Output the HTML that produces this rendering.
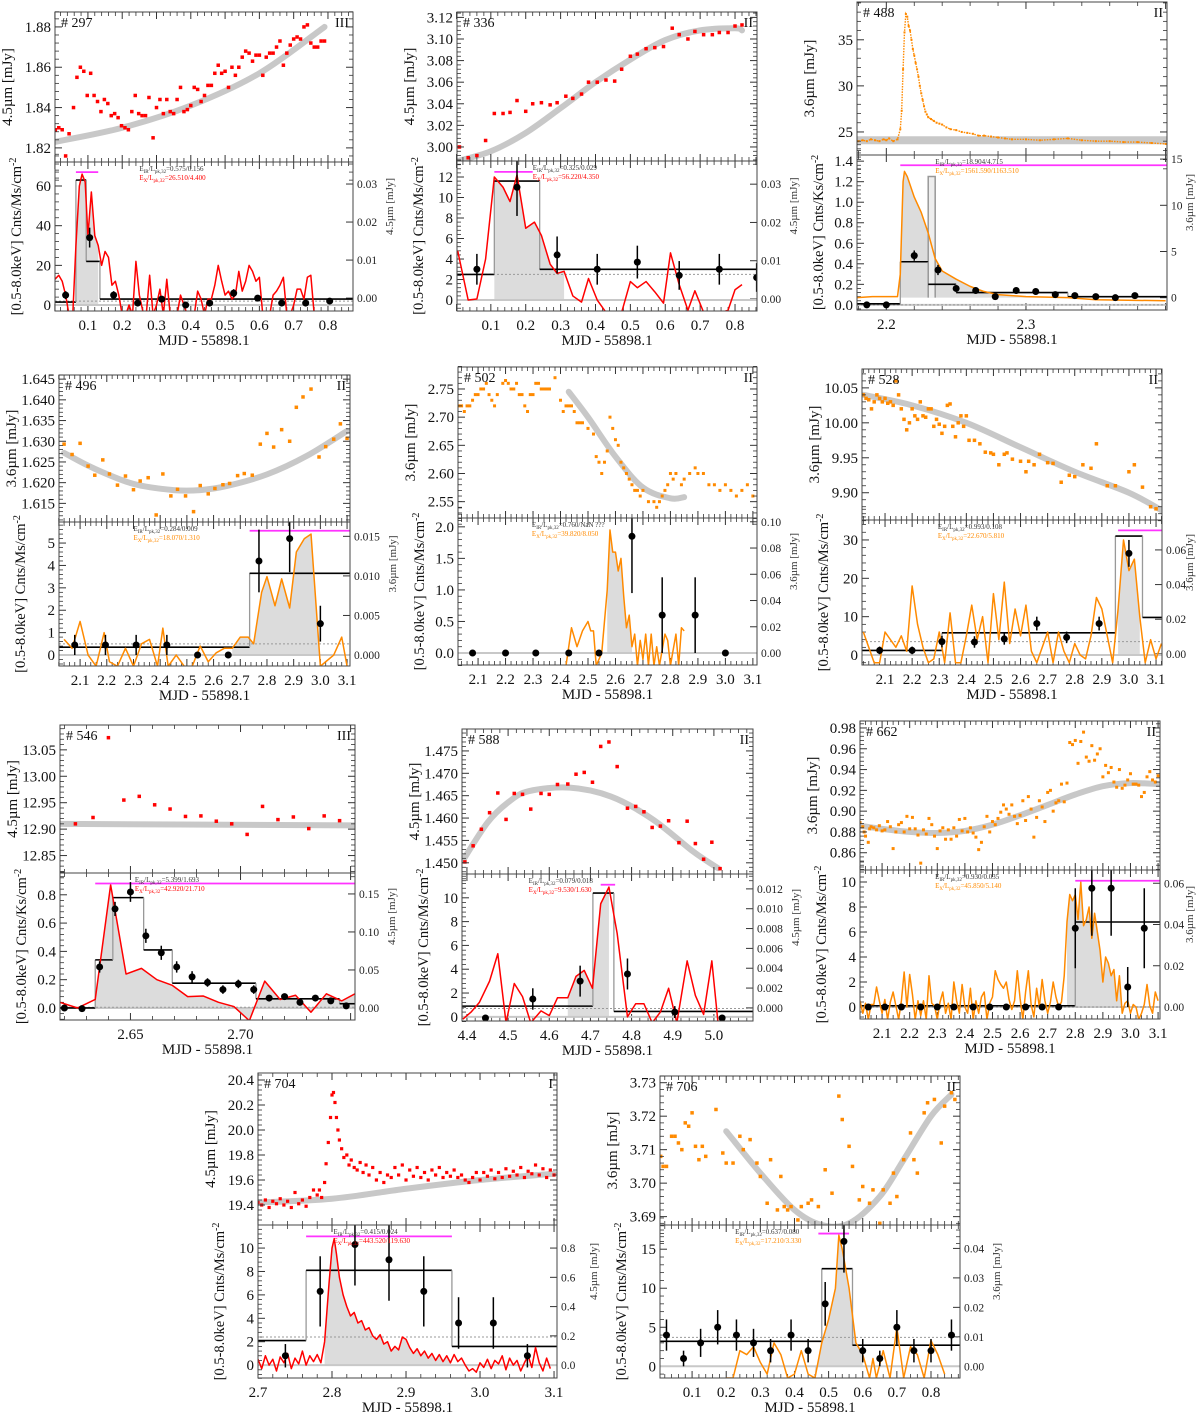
<!DOCTYPE html>
<html><head><meta charset="utf-8"><style>
html,body{margin:0;padding:0;background:#fff;}
svg{display:block;font-family:"Liberation Serif",serif;}
</style></head><body>
<svg id="fig" width="1200" height="1421" viewBox="0 0 1200 1421"></svg>
<script>
// ===== DATA =====
const p297_top=[[0.005,1.829],[0.015,1.830],[0.025,1.829],[0.035,1.816],[0.045,1.827],[0.058,1.840],[0.068,1.855],[0.078,1.860],[0.088,1.858],[0.098,1.846],[0.108,1.857],[0.118,1.846],[0.128,1.843],[0.138,1.838],[0.148,1.844],[0.158,1.842],[0.168,1.836],[0.178,1.837],[0.188,1.835],[0.198,1.831],[0.208,1.830],[0.218,1.829],[0.228,1.838],[0.238,1.846],[0.248,1.837],[0.258,1.836],[0.268,1.836],[0.278,1.845],[0.29,1.825],[0.3,1.840],[0.31,1.844],[0.32,1.837],[0.33,1.844],[0.34,1.838],[0.35,1.837],[0.36,1.844],[0.37,1.850],[0.38,1.838],[0.39,1.839],[0.4,1.841],[0.41,1.850],[0.42,1.849],[0.43,1.843],[0.44,1.846],[0.45,1.851],[0.46,1.851],[0.47,1.857],[0.48,1.861],[0.49,1.857],[0.5,1.858],[0.51,1.850],[0.52,1.860],[0.53,1.856],[0.54,1.860],[0.55,1.865],[0.56,1.868],[0.57,1.867],[0.58,1.863],[0.59,1.866],[0.6,1.866],[0.61,1.856],[0.62,1.865],[0.63,1.867],[0.64,1.867],[0.65,1.870],[0.66,1.873],[0.67,1.861],[0.68,1.867],[0.69,1.871],[0.70,1.874],[0.71,1.875],[0.72,1.874],[0.73,1.880],[0.74,1.881],[0.75,1.872],[0.76,1.870],[0.77,1.870],[0.78,1.873],[0.79,1.873]];
const p297_fit=[[0.005,1.823],[0.2,1.830],[0.4,1.841],[0.6,1.857],[0.79,1.880]];
const p297_line=[[0.004,13],[0.015,15],[0.025,12],[0.035,5],[0.045,-5],[0.055,-8],[0.065,30],[0.075,60],[0.083,66],[0.092,62],[0.1,35],[0.11,57],[0.12,35],[0.13,30],[0.14,20],[0.15,27],[0.16,24],[0.17,10],[0.18,12],[0.19,5],[0.2,-5],[0.21,-5],[0.22,0],[0.23,-5],[0.24,22],[0.25,5],[0.26,-3],[0.27,-5],[0.28,15],[0.29,-5],[0.3,0],[0.31,8],[0.32,-5],[0.33,13],[0.34,-5],[0.35,-3],[0.36,-5],[0.37,5],[0.38,0],[0.39,-5],[0.4,-5],[0.41,-5],[0.42,7],[0.43,3],[0.44,-5],[0.45,3],[0.46,3],[0.47,10],[0.48,20],[0.49,12],[0.5,5],[0.51,7],[0.52,3],[0.53,5],[0.54,17],[0.55,7],[0.56,12],[0.57,20],[0.58,17],[0.59,12],[0.6,14],[0.61,-5],[0.62,-5],[0.63,-5],[0.64,5],[0.65,7],[0.66,10],[0.67,14],[0.68,-5],[0.69,-5],[0.70,0],[0.71,8],[0.72,8],[0.73,3],[0.74,14],[0.75,15],[0.76,-5]];
const p297_hist=[[0.004,0.065,1.5],[0.065,0.095,63],[0.095,0.135,22],[0.135,0.873,3]];
const p297_pts=[[0.035,5,2],[0.105,34,5],[0.175,5,2],[0.245,1,1],[0.315,3,1.5],[0.385,0,1],[0.455,1,1],[0.525,6,2],[0.595,3.5,1.5],[0.665,1,1],[0.735,1,1],[0.805,2,1]];

const p336_top=[[0.01,3.000],[0.035,2.990],[0.06,2.992],[0.085,3.006],[0.11,3.031],[0.135,3.031],[0.155,3.032],[0.175,3.043],[0.2,3.033],[0.22,3.040],[0.245,3.041],[0.27,3.039],[0.29,3.041],[0.315,3.047],[0.335,3.045],[0.36,3.049],[0.38,3.060],[0.405,3.060],[0.43,3.062],[0.455,3.061],[0.475,3.072],[0.5,3.084],[0.52,3.086],[0.545,3.091],[0.57,3.092],[0.595,3.093],[0.62,3.110],[0.64,3.104],[0.665,3.100],[0.685,3.107],[0.71,3.104],[0.735,3.104],[0.755,3.106],[0.78,3.106],[0.8,3.112],[0.82,3.113]];
const p336_fit=[[0.005,2.987],[0.1,2.996],[0.2,3.013],[0.3,3.036],[0.4,3.060],[0.5,3.081],[0.6,3.099],[0.7,3.108],[0.8,3.110],[0.82,3.108]];
const p336_line=[[0.005,4.8],[0.035,0],[0.06,0.1],[0.085,4],[0.11,12],[0.135,11],[0.155,9.6],[0.175,12.2],[0.2,7],[0.225,7.6],[0.245,6.3],[0.27,3.5],[0.29,2.6],[0.31,2.8],[0.335,0.4],[0.36,-0.2],[0.38,2.1],[0.405,0],[0.43,-1.2],[0.455,-1.2],[0.475,-1.2],[0.5,1.8],[0.52,1.2],[0.545,1.8],[0.57,0.8],[0.595,-0.3],[0.615,4.6],[0.64,1.5],[0.665,-1],[0.685,0.9],[0.71,-1.2],[0.735,-1.2],[0.76,-1.2],[0.78,-1],[0.8,1],[0.82,1.5]];
const p336_hist=[[0.003,0.11,2.5],[0.11,0.24,11.6],[0.24,0.863,3.0]];
const p336_pts=[[0.06,3,1.5],[0.175,11,2.8],[0.29,4.4,1.8],[0.405,3,1.5],[0.52,3.7,1.6],[0.64,2.4,1.4],[0.755,3,1.5],[0.862,2.2,1.4]];

const p488_top=[[2.18,24.0],[2.183,24.1],[2.186,24.0],[2.189,24.2],[2.192,24.1],[2.195,24.0],[2.198,24.2],[2.2,24.1],[2.202,24.3],[2.205,24.0],[2.208,24.2],[2.21,25.3],[2.211,27.3],[2.212,31.8],[2.213,35.8],[2.214,37.8],[2.215,37.5],[2.216,36.5],[2.217,36.0],[2.218,35.0],[2.219,34.0],[2.22,33.3],[2.221,32.5],[2.222,31.8],[2.223,31.0],[2.224,30.0],[2.225,29.2],[2.226,28.5],[2.227,27.8],[2.228,27.2],[2.229,26.9],[2.23,26.6],[2.232,26.4],[2.234,26.2],[2.236,26.0],[2.238,25.9],[2.24,25.8],[2.243,25.5],[2.246,25.3],[2.25,25.2],[2.254,25.0],[2.258,24.9],[2.262,24.8],[2.266,24.6],[2.27,24.6],[2.275,24.5],[2.28,24.4],[2.285,24.3],[2.29,24.2],[2.3,24.2],[2.31,24.1],[2.32,24.2],[2.33,24.3],[2.34,24.1],[2.35,24.0],[2.36,24.0],[2.37,23.9],[2.38,23.9],[2.39,23.8],[2.4,23.7]];
const p488_fit=[[2.179,24.1],[2.401,24.1]];
const p488_line=[[2.179,0.07],[2.19,0.08],[2.2,0.08],[2.208,0.08],[2.21,0.3],[2.212,1.2],[2.213,1.3],[2.215,1.25],[2.22,1.05],[2.225,0.9],[2.23,0.7],[2.235,0.45],[2.24,0.33],[2.25,0.25],[2.26,0.18],[2.27,0.13],[2.28,0.1],[2.3,0.08],[2.33,0.07],[2.35,0.05],[2.4,0.04]];
const p488_hist=[[2.179,2.21,0.01],[2.21,2.23,0.42],[2.23,2.25,0.2],[2.25,2.33,0.12],[2.33,2.401,0.08]];
const p488_pts=[[2.186,0,0.01],[2.2,0,0.01],[2.22,0.48,0.05],[2.237,0.34,0.05],[2.25,0.16,0.03],[2.264,0.14,0.03],[2.278,0.08,0.02],[2.293,0.14,0.03],[2.307,0.13,0.03],[2.321,0.1,0.02],[2.335,0.09,0.02],[2.35,0.08,0.02],[2.364,0.07,0.02],[2.378,0.09,0.02]];

const p496_top=[[2.04,1.6293],[2.07,1.6268],[2.1,1.6295],[2.13,1.6240],[2.155,1.6218],[2.185,1.6255],[2.21,1.6221],[2.24,1.6194],[2.27,1.6216],[2.3,1.6183],[2.325,1.6204],[2.355,1.6212],[2.385,1.6122],[2.41,1.6221],[2.44,1.6168],[2.465,1.6184],[2.495,1.6168],[2.525,1.6130],[2.55,1.6193],[2.58,1.6173],[2.605,1.6186],[2.635,1.6195],[2.66,1.6198],[2.69,1.6217],[2.715,1.6222],[2.745,1.6218],[2.775,1.6293],[2.8,1.6319],[2.825,1.6286],[2.855,1.6328],[2.885,1.6300],[2.91,1.6382],[2.935,1.6407],[2.965,1.6426],[2.995,1.6262],[3.02,1.6287],[3.05,1.6305],[3.075,1.6342],[3.1,1.6307]];
const p496_fit=[[2.04,1.6272],[2.15,1.6235],[2.3,1.6197],[2.45,1.6182],[2.55,1.6182],[2.65,1.6192],[2.8,1.622],[2.95,1.6265],[3.1,1.6325]];
const p496_line=[[2.04,0.7],[2.07,0.3],[2.1,1.5],[2.13,0],[2.16,-0.5],[2.19,1.0],[2.21,-0.3],[2.24,-0.5],[2.27,0.3],[2.3,-0.5],[2.33,0.5],[2.36,0.7],[2.39,-0.5],[2.41,1.2],[2.43,-0.5],[2.46,0],[2.49,-0.5],[2.52,-0.5],[2.55,0.4],[2.58,-0.3],[2.61,0.1],[2.64,0.3],[2.67,0.3],[2.7,0.8],[2.73,0.8],[2.75,0.5],[2.78,2.8],[2.8,3.5],[2.83,2.2],[2.855,3.4],[2.885,2.1],[2.91,4.6],[2.94,5.2],[2.965,5.4],[3.0,-0.5],[3.02,-0.3],[3.05,0],[3.08,0.8],[3.1,-0.5]];
const p496_hist=[[2.021,2.735,0.35],[2.735,3.111,3.65]];
const p496_pts=[[2.08,0.45,0.45],[2.195,0.45,0.45],[2.31,0.45,0.45],[2.425,0.45,0.45],[2.54,0,0],[2.655,0,0],[2.77,4.2,1.4],[2.885,5.2,1.5],[3.0,1.4,0.8]];

const p502_top=[[2.03,2.72],[2.04,2.72],[2.05,2.71],[2.06,2.72],[2.07,2.72],[2.08,2.73],[2.09,2.74],[2.1,2.74],[2.11,2.75],[2.12,2.75],[2.13,2.76],[2.14,2.74],[2.15,2.73],[2.16,2.72],[2.17,2.74],[2.19,2.76],[2.2,2.765],[2.21,2.76],[2.22,2.75],[2.23,2.75],[2.24,2.76],[2.25,2.74],[2.26,2.74],[2.27,2.72],[2.28,2.71],[2.29,2.74],[2.3,2.74],[2.31,2.76],[2.32,2.76],[2.33,2.75],[2.34,2.75],[2.35,2.75],[2.36,2.75],[2.38,2.77],[2.4,2.73],[2.41,2.71],[2.42,2.72],[2.43,2.72],[2.44,2.72],[2.45,2.71],[2.46,2.69],[2.47,2.69],[2.48,2.69],[2.5,2.68],[2.52,2.67],[2.53,2.63],[2.54,2.62],[2.55,2.60],[2.56,2.62],[2.57,2.64],[2.58,2.70],[2.59,2.68],[2.6,2.66],[2.61,2.65],[2.62,2.62],[2.63,2.61],[2.64,2.60],[2.65,2.59],[2.66,2.58],[2.67,2.57],[2.68,2.57],[2.69,2.56],[2.7,2.57],[2.72,2.55],[2.74,2.55],[2.75,2.54],[2.76,2.55],[2.77,2.56],[2.78,2.57],[2.79,2.58],[2.8,2.60],[2.81,2.59],[2.82,2.60],[2.84,2.58],[2.85,2.59],[2.87,2.60],[2.89,2.61],[2.9,2.60],[2.92,2.60],[2.94,2.58],[2.96,2.58],[2.98,2.57],[3.0,2.58],[3.02,2.57],[3.04,2.56],[3.06,2.57],[3.08,2.58],[3.1,2.56]];
const p502_fit=[[2.43,2.745],[2.5,2.70],[2.6,2.63],[2.7,2.575],[2.8,2.556],[2.85,2.558]];
const p502_line=[[2.42,-0.2],[2.44,0.4],[2.46,0.1],[2.48,0.35],[2.5,0.5],[2.51,0.35],[2.52,0.35],[2.53,-0.2],[2.55,0.0],[2.57,1.0],[2.58,1.95],[2.59,1.6],[2.6,1.6],[2.61,1.3],[2.62,1.5],[2.63,0.9],[2.64,0.4],[2.65,0.6],[2.66,0.1],[2.67,0.3],[2.68,-0.2],[2.69,0.2],[2.7,-0.1],[2.71,0.3],[2.72,-0.2],[2.73,0.3],[2.74,-0.2],[2.75,0.1],[2.76,-0.2],[2.78,0.3],[2.79,0.2],[2.8,-0.2],[2.82,0.3],[2.83,-0.2],[2.84,0.4],[2.85,0.35]];
const p502_hist=[];
const p502_pts=[[2.08,0,0],[2.2,0,0],[2.31,0,0],[2.43,0,0],[2.54,0,0],[2.66,1.85,0.9],[2.77,0.6,0.6],[2.89,0.6,0.6],[3.0,0,0]];

const p528_top=[[2.02,10.04],[2.03,10.035],[2.04,10.033],[2.05,10.02],[2.06,10.03],[2.07,10.04],[2.08,10.035],[2.09,10.03],[2.1,10.035],[2.11,10.028],[2.12,10.03],[2.13,10.025],[2.14,10.06],[2.15,10.04],[2.16,10.02],[2.17,10.005],[2.18,9.99],[2.19,10.0],[2.2,10.02],[2.21,10.01],[2.22,10.005],[2.23,10.03],[2.24,10.01],[2.25,10.008],[2.26,10.02],[2.27,10.02],[2.28,9.995],[2.29,10.005],[2.3,9.998],[2.31,9.985],[2.32,9.995],[2.33,10.025],[2.34,10.027],[2.35,9.995],[2.36,9.98],[2.37,10.0],[2.38,10.01],[2.39,9.995],[2.4,10.01],[2.41,9.975],[2.43,9.975],[2.45,9.97],[2.47,9.958],[2.49,9.957],[2.5,9.955],[2.52,9.94],[2.54,9.955],[2.55,9.957],[2.57,9.948],[2.6,9.945],[2.62,9.93],[2.63,9.945],[2.65,9.94],[2.67,9.955],[2.7,9.943],[2.72,9.942],[2.75,9.915],[2.78,9.925],[2.8,9.923],[2.83,9.94],[2.86,9.935],[2.88,9.97],[2.92,9.91],[2.95,9.91],[3.0,9.93],[3.02,9.94],[3.05,9.908],[3.08,9.88],[3.1,9.877]];
const p528_fit=[[2.02,10.04],[2.2,10.025],[2.4,10.0],[2.6,9.965],[2.8,9.93],[3.0,9.9],[3.12,9.875]];
const p528_line=[[2.02,6],[2.04,2],[2.06,-2],[2.08,-2],[2.1,6],[2.12,4],[2.14,2],[2.16,5],[2.18,1],[2.2,18],[2.22,8],[2.24,2],[2.26,-2],[2.28,-1],[2.3,6],[2.32,-2],[2.34,11],[2.36,-2],[2.38,-2],[2.4,5],[2.42,13],[2.44,4],[2.46,10],[2.48,-2],[2.5,16],[2.52,4],[2.54,19],[2.56,3],[2.58,12],[2.6,5],[2.62,13],[2.64,1],[2.66,-2],[2.68,2],[2.7,6],[2.72,-2],[2.74,6],[2.76,1],[2.78,-2],[2.8,3],[2.82,0],[2.84,-1],[2.86,5],[2.88,15],[2.9,12],[2.92,5],[2.94,-2],[2.96,12],[2.98,30],[3.0,22],[3.02,25],[3.04,10],[3.06,-2],[3.08,4],[3.1,-1],[3.12,3]];
const p528_hist=[[2.015,2.31,1.2],[2.31,2.95,5.8],[2.95,3.05,31],[3.05,3.122,9.8]];
const p528_pts=[[2.08,1.2,1],[2.2,1.2,1],[2.31,3.5,1.5],[2.43,3.4,1.5],[2.54,4.2,1.5],[2.66,8.2,1.8],[2.77,4.6,1.5],[2.89,8.2,1.8],[3.0,26.5,3.5]];

const p546_top=[[2.625,12.910],[2.633,12.922],[2.640,13.073],[2.647,12.955],[2.654,12.962],[2.661,12.946],[2.668,12.938],[2.675,12.924],[2.682,12.925],[2.689,12.915],[2.696,12.910],[2.703,12.890],[2.710,12.943],[2.717,12.918],[2.724,12.923],[2.731,12.901],[2.738,12.925],[2.745,12.916]];
const p546_fit=[[2.618,12.910],[2.752,12.907]];
const p546_line=[[2.618,0.04],[2.626,0.0],[2.634,0.06],[2.641,0.87],[2.648,0.24],[2.655,0.28],[2.662,0.2],[2.669,0.16],[2.676,0.08],[2.683,0.085],[2.69,0.04],[2.697,0.01],[2.704,-0.09],[2.711,0.19],[2.718,0.06],[2.725,0.09],[2.732,-0.03],[2.739,0.1],[2.746,0.05],[2.752,0.1]];
const p546_hist=[[2.618,2.634,0.0],[2.634,2.642,0.34],[2.642,2.656,0.78],[2.656,2.669,0.41],[2.669,2.707,0.175],[2.707,2.745,0.065],[2.745,2.752,0.03]];
const p546_pts=[[2.62,0.0,0.01],[2.628,-0.005,0.01],[2.636,0.29,0.04],[2.643,0.7,0.05],[2.65,0.82,0.07],[2.657,0.51,0.05],[2.664,0.39,0.05],[2.671,0.29,0.04],[2.678,0.22,0.04],[2.685,0.18,0.03],[2.692,0.13,0.03],[2.699,0.17,0.03],[2.706,0.13,0.03],[2.713,0.07,0.02],[2.72,0.08,0.02],[2.727,0.04,0.02],[2.734,0.07,0.02],[2.741,0.05,0.02],[2.748,0.015,0.01]];

const p588_top=[[4.395,1.4502],[4.415,1.4538],[4.435,1.4575],[4.455,1.4612],[4.475,1.4656],[4.495,1.4597],[4.515,1.4655],[4.535,1.4653],[4.555,1.4620],[4.58,1.4655],[4.6,1.4653],[4.62,1.4675],[4.645,1.4676],[4.665,1.4698],[4.685,1.4702],[4.705,1.4680],[4.725,1.4760],[4.745,1.4770],[4.765,1.4715],[4.79,1.4622],[4.81,1.4626],[4.83,1.4614],[4.85,1.4579],[4.87,1.4582],[4.89,1.4594],[4.915,1.4545],[4.935,1.4593],[4.955,1.4543],[4.975,1.4508],[4.995,1.4546],[5.015,1.4487]];
const p588_fit=[[4.39,1.4505],[4.45,1.459],[4.5,1.4635],[4.55,1.466],[4.65,1.4668],[4.75,1.4648],[4.85,1.4598],[4.95,1.4525],[5.01,1.4488]];
const p588_line=[[4.39,-0.2],[4.41,0.4],[4.43,1.2],[4.455,3],[4.475,5.3],[4.495,-0.5],[4.515,2.8],[4.535,1.7],[4.555,-0.5],[4.58,0.5],[4.6,0.1],[4.62,1.6],[4.645,1.6],[4.665,3.4],[4.685,3.9],[4.705,2.4],[4.725,9.5],[4.745,10.9],[4.765,7],[4.79,0],[4.81,1.1],[4.83,1.1],[4.85,-0.5],[4.87,0.4],[4.89,2.4],[4.91,-0.5],[4.935,4.7],[4.955,1.8],[4.975,0.2],[4.995,4.7],[5.01,-0.5]];
const p588_hist=[[4.388,4.706,0.9],[4.706,4.757,10.4],[4.757,5.095,0.45]];
const p588_pts=[[4.445,-0.1,0],[4.56,1.5,0.9],[4.675,3.0,1.3],[4.79,3.6,1.3],[4.905,0.4,0.5],[5.02,-0.1,0]];

const p662_top=[[2.02,0.889],[2.03,0.885],[2.035,0.880],[2.04,0.876],[2.05,0.870],[2.055,0.883],[2.06,0.885],[2.07,0.884],[2.08,0.882],[2.09,0.886],[2.1,0.881],[2.11,0.882],[2.12,0.890],[2.13,0.885],[2.14,0.864],[2.15,0.880],[2.16,0.887],[2.17,0.889],[2.18,0.880],[2.19,0.895],[2.2,0.883],[2.21,0.894],[2.22,0.883],[2.23,0.877],[2.24,0.850],[2.25,0.882],[2.26,0.878],[2.27,0.893],[2.28,0.887],[2.29,0.876],[2.3,0.864],[2.31,0.881],[2.32,0.884],[2.33,0.873],[2.34,0.882],[2.35,0.873],[2.36,0.884],[2.37,0.876],[2.38,0.892],[2.39,0.881],[2.4,0.893],[2.41,0.880],[2.42,0.884],[2.43,0.879],[2.44,0.875],[2.45,0.863],[2.46,0.870],[2.47,0.885],[2.48,0.895],[2.49,0.880],[2.5,0.890],[2.51,0.887],[2.52,0.893],[2.53,0.899],[2.54,0.906],[2.55,0.902],[2.56,0.897],[2.57,0.906],[2.58,0.895],[2.59,0.888],[2.6,0.896],[2.61,0.910],[2.62,0.891],[2.63,0.914],[2.64,0.902],[2.65,0.875],[2.66,0.894],[2.67,0.910],[2.68,0.904],[2.69,0.890],[2.7,0.918],[2.71,0.920],[2.72,0.900],[2.73,0.908],[2.74,0.910],[2.75,0.926],[2.76,0.909],[2.77,0.927],[2.78,0.966],[2.79,0.964],[2.8,0.968],[2.81,0.946],[2.82,0.967],[2.83,0.976],[2.84,0.952],[2.85,0.948],[2.86,0.963],[2.87,0.949],[2.88,0.955],[2.89,0.960],[2.9,0.933],[2.91,0.944],[2.92,0.937],[2.93,0.942],[2.94,0.928],[2.95,0.923],[2.96,0.940],[2.97,0.922],[2.98,0.925],[2.99,0.930],[3.0,0.936],[3.01,0.926],[3.02,0.926],[3.03,0.925],[3.04,0.914],[3.05,0.918],[3.06,0.933],[3.07,0.938],[3.08,0.930],[3.09,0.928],[3.1,0.934]];
const p662_fit=[[2.02,0.886],[2.1,0.883],[2.2,0.880],[2.3,0.879],[2.4,0.881],[2.5,0.887],[2.6,0.896],[2.7,0.906],[2.8,0.916],[2.9,0.924],[3.0,0.927],[3.1,0.926]];
const p662_line=[[2.02,0.5],[2.03,-0.5],[2.04,0.3],[2.05,-1],[2.06,0.2],[2.07,0.2],[2.08,1.6],[2.09,0.5],[2.1,-0.5],[2.11,0.6],[2.12,-1],[2.13,0.4],[2.14,1.2],[2.15,0.1],[2.16,-1],[2.17,0.5],[2.18,2.8],[2.19,0],[2.2,2.6],[2.21,1],[2.22,-1],[2.23,0.5],[2.24,-0.7],[2.25,0.5],[2.26,-1],[2.27,2.5],[2.28,0.3],[2.29,0.1],[2.3,-1],[2.31,0.4],[2.32,1.2],[2.33,-0.5],[2.34,0.3],[2.35,-1],[2.36,2.0],[2.37,0.5],[2.38,-0.5],[2.39,1.8],[2.4,0],[2.41,-0.5],[2.42,1.5],[2.43,-1],[2.44,0.5],[2.45,-0.5],[2.46,0.8],[2.47,1.2],[2.48,-1],[2.49,0.3],[2.5,0.8],[2.51,2.9],[2.52,2.2],[2.53,1.8],[2.54,1.5],[2.55,2.0],[2.56,0.6],[2.57,-0.2],[2.58,0.5],[2.59,2.9],[2.6,0.7],[2.61,-1],[2.62,1.2],[2.63,2.9],[2.64,0.2],[2.65,-0.8],[2.66,1.5],[2.67,0],[2.68,2.2],[2.69,0.5],[2.7,-0.5],[2.71,0.4],[2.72,2.0],[2.73,0.8],[2.74,0],[2.75,0.4],[2.76,2.5],[2.77,6.8],[2.78,9.0],[2.79,8.5],[2.8,9.0],[2.81,7.0],[2.82,10.0],[2.83,6.5],[2.84,7.0],[2.85,8.0],[2.86,5.5],[2.87,7.5],[2.88,6.0],[2.89,4.5],[2.9,2.0],[2.91,4.0],[2.92,3.5],[2.93,2.5],[2.94,3.0],[2.95,0.5],[2.96,2.5],[2.97,-0.5],[2.98,0.3],[2.99,0.5],[3.0,-0.5],[3.01,0.2],[3.02,0],[3.03,-1],[3.04,-0.5],[3.05,0.2],[3.06,1.8],[3.07,0.1],[3.08,-0.5],[3.09,1.2],[3.1,0.5]];
const p662_hist=[[2.02,2.8,0.1],[2.8,3.107,6.8]];
const p662_pts=[[2.05,0,0.1],[2.11,0,0.1],[2.17,0,0.1],[2.24,0,0.1],[2.3,0,0.1],[2.36,0,0.1],[2.43,0,0.1],[2.49,0,0.1],[2.55,0,0.1],[2.62,0,0.1],[2.68,0,0.1],[2.74,0,0.1],[2.8,6.3,3.2],[2.86,9.5,3.8],[2.93,9.5,3.8],[2.99,1.6,1.6],[3.05,6.3,3.2]];

const p704_top=[[2.700,19.42],[2.705,19.40],[2.71,19.44],[2.715,19.38],[2.72,19.43],[2.725,19.41],[2.73,19.45],[2.735,19.40],[2.74,19.43],[2.745,19.38],[2.75,19.50],[2.755,19.41],[2.76,19.44],[2.765,19.39],[2.77,19.46],[2.775,19.52],[2.78,19.48],[2.783,19.52],[2.786,19.46],[2.79,19.58],[2.792,19.73],[2.795,19.90],[2.798,20.10],[2.8,20.28],[2.802,20.30],[2.804,20.22],[2.806,20.10],[2.808,20.0],[2.81,19.92],[2.813,19.85],[2.816,19.78],[2.82,19.80],[2.823,19.72],[2.826,19.76],[2.83,19.70],[2.834,19.68],[2.838,19.74],[2.842,19.66],[2.846,19.72],[2.85,19.64],[2.855,19.70],[2.86,19.60],[2.865,19.66],[2.87,19.58],[2.875,19.64],[2.88,19.62],[2.885,19.70],[2.89,19.64],[2.895,19.72],[2.9,19.60],[2.905,19.68],[2.91,19.63],[2.915,19.70],[2.92,19.62],[2.925,19.66],[2.93,19.60],[2.935,19.68],[2.94,19.64],[2.945,19.70],[2.95,19.62],[2.955,19.66],[2.96,19.63],[2.965,19.68],[2.97,19.62],[2.975,19.64],[2.98,19.60],[2.985,19.58],[2.99,19.62],[2.995,19.66],[3.0,19.60],[3.005,19.66],[3.01,19.63],[3.015,19.68],[3.02,19.61],[3.025,19.66],[3.03,19.62],[3.035,19.69],[3.04,19.63],[3.045,19.67],[3.05,19.64],[3.055,19.70],[3.06,19.62],[3.065,19.67],[3.07,19.65],[3.075,19.72],[3.08,19.64],[3.085,19.69],[3.09,19.62],[3.095,19.68],[3.1,19.64]];
const p704_fit=[[2.7,19.42],[2.8,19.45],[2.9,19.53],[3.0,19.6],[3.1,19.65]];
const p704_line=[[2.7,0.5],[2.705,-0.3],[2.71,0.8],[2.715,0],[2.72,0.5],[2.725,-0.5],[2.73,0.7],[2.735,0.2],[2.74,1.0],[2.745,-0.3],[2.75,0.6],[2.755,0.1],[2.76,1.2],[2.765,0],[2.77,0.8],[2.775,0.3],[2.78,0.9],[2.785,0.2],[2.79,2.0],[2.793,4.5],[2.796,7],[2.8,10],[2.803,10.8],[2.806,9.5],[2.81,7.5],[2.815,6],[2.82,5],[2.825,4.2],[2.83,4.5],[2.835,3.6],[2.84,3.8],[2.845,3.0],[2.85,3.2],[2.855,2.5],[2.86,2.2],[2.865,2.6],[2.87,1.8],[2.875,2.0],[2.88,1.2],[2.885,1.6],[2.89,1.3],[2.895,2.4],[2.9,2.2],[2.905,1.5],[2.91,1.0],[2.915,1.4],[2.92,0.8],[2.925,1.2],[2.93,0.6],[2.935,1.0],[2.94,0.4],[2.945,0.9],[2.95,0.3],[2.955,0.8],[2.96,0.2],[2.965,0.9],[2.97,0.3],[2.975,0.6],[2.98,0],[2.985,-0.5],[2.99,-0.3],[2.995,-0.6],[3.0,0.2],[3.005,-0.2],[3.01,0.5],[3.015,-0.3],[3.02,0.4],[3.025,0.1],[3.03,0.8],[3.035,-0.4],[3.04,0.6],[3.045,0.0],[3.05,0.4],[3.055,-0.5],[3.06,0.2],[3.065,0.8],[3.07,-0.2],[3.075,1.5],[3.08,0.2],[3.085,-0.5],[3.09,0.6],[3.095,-0.3]];
const p704_hist=[[2.7,2.765,2.1],[2.765,2.962,8.1],[2.962,3.104,1.6]];
const p704_pts=[[2.737,0.8,1.0],[2.784,6.3,3],[2.831,10.3,3.5],[2.877,9.0,3.5],[2.924,6.3,3],[2.971,3.6,2.2],[3.018,3.6,2.2],[3.064,0.8,1.0]];

const p706_top=[[0.008,3.708],[0.015,3.705],[0.025,3.705],[0.04,3.714],[0.05,3.714],[0.06,3.712],[0.07,3.710],[0.08,3.718],[0.09,3.717],[0.1,3.721],[0.11,3.711],[0.12,3.707],[0.13,3.711],[0.14,3.708],[0.17,3.722],[0.19,3.709],[0.2,3.706],[0.22,3.706],[0.24,3.714],[0.25,3.710],[0.27,3.713],[0.29,3.706],[0.3,3.702],[0.32,3.694],[0.33,3.707],[0.35,3.692],[0.36,3.702],[0.37,3.693],[0.38,3.692],[0.39,3.693],[0.41,3.689],[0.42,3.693],[0.44,3.694],[0.45,3.695],[0.47,3.693],[0.49,3.704],[0.51,3.697],[0.53,3.726],[0.54,3.719],[0.56,3.711],[0.57,3.705],[0.59,3.695],[0.6,3.699],[0.62,3.694],[0.63,3.698],[0.65,3.688],[0.66,3.698],[0.68,3.694],[0.69,3.703],[0.7,3.696],[0.72,3.707],[0.74,3.715],[0.75,3.707],[0.76,3.703],[0.78,3.721],[0.79,3.724],[0.81,3.725],[0.83,3.712],[0.84,3.723],[0.86,3.727],[0.87,3.725]];
const p706_fit=[[0.2,3.7155],[0.3,3.703],[0.4,3.692],[0.48,3.6875],[0.56,3.688],[0.65,3.696],[0.72,3.707],[0.8,3.72],[0.86,3.7265]];
const p706_line=[[0.2,-1.5],[0.22,-1.5],[0.24,2],[0.26,1.5],[0.28,2.5],[0.3,0.5],[0.32,-1],[0.34,3],[0.36,1.5],[0.38,-1.5],[0.4,-1],[0.42,2],[0.44,-1],[0.46,-1.5],[0.48,3],[0.5,6],[0.52,10],[0.53,16.8],[0.54,15],[0.56,10],[0.58,3],[0.6,1.5],[0.62,-1.5],[0.63,1],[0.64,-1.5],[0.66,2],[0.68,-1.5],[0.7,5],[0.72,-1.5],[0.74,2.5],[0.76,1.5],[0.78,-1.5],[0.8,3.3],[0.82,1.5],[0.84,-1]];
const p706_hist=[[0.006,0.48,3.2],[0.48,0.57,12.5],[0.57,0.886,2.7]];
const p706_pts=[[0.025,4,2],[0.075,1,1],[0.125,3,1.8],[0.175,5,2.2],[0.23,4,2],[0.28,3,1.8],[0.33,2,1.5],[0.39,4,2],[0.44,2,1.5],[0.49,8,2.8],[0.545,16,4],[0.6,2,1.5],[0.65,1,1],[0.7,5,2.2],[0.75,2,1.5],[0.8,2,1.5],[0.86,4,2]];

const xt_0to08=['0.1','0.2','0.3','0.4','0.5','0.6','0.7','0.8'];
const xt_21to31=['2.1','2.2','2.3','2.4','2.5','2.6','2.7','2.8','2.9','3.0','3.1'];

const RED='#ff0000', ORG='#ff8a00';
const panels=[
 {id:'297',box:[55,353,12,162,311],xr:[0.004,0.873],xt:xt_0to08,top:p297_top,fit:p297_fit,line:p297_line,hist:p297_hist,pts:p297_pts,col:RED,band:'4.5',unit:'Ms',cls:'III',
  tyr:[1.813,1.8874],tyt:['1.82','1.84','1.86','1.88'],byr:[-3,72.1],byt:['0','20','40','60'],rmap:[0,3.5,0.03,61],rt:['0.00','0.01','0.02','0.03'],
  fill:[0.065,0.135],dot:2,mag:[0.065,0.13,67],ann:['0.575/0.156','26.510/4.400'],tx:0.25,ps:3.5},
 {id:'336',box:[457,757,12,161,311],xr:[0.003,0.863],xt:xt_0to08,top:p336_top,fit:p336_fit,line:p336_line,hist:p336_hist,pts:p336_pts,col:RED,band:'4.5',unit:'Ms',cls:'II',
  tyr:[2.987,3.125],tyt:['3.00','3.02','3.04','3.06','3.08','3.10','3.12'],byr:[-1.07,13.56],byt:['0','2','4','6','8','10','12'],rmap:[0,0.1,0.03,11.3],rt:['0.00','0.01','0.02','0.03'],
  fill:[0.09,0.31],dot:2.5,mag:[0.11,0.22,12.5],ann:['0.325/0.029','56.220/4.350'],tx:0.22,ps:3.5},
 {id:'488',box:[857,1167,2,155,310],xr:[2.179,2.401],xt:['2.2','2.3'],top:p488_top,fit:p488_fit,line:p488_line,hist:p488_hist,pts:p488_pts,col:ORG,band:'3.6',unit:'Ks',cls:'II',
  tyr:[22.5,39.1],tyt:['25','30','35'],byr:[-0.05,1.46],byt:['0.0','0.2','0.4','0.6','0.8','1.0','1.2','1.4'],rmap:[0,0.07,15,1.42],rt:['0','5','10','15'],
  fill:[2.21,2.33],dot:0.0,mag:[2.21,2.401,1.36],ann:['18.904/4.715','1561.590/1163.510'],tx:2.235,ps:2,dense:true,base:0.07,spike:[2.23,2.235,1.25]},
 {id:'496',box:[59,350,375,522,666],xr:[2.021,3.111],xt:xt_21to31,top:p496_top,fit:p496_fit,line:p496_line,hist:p496_hist,pts:p496_pts,col:ORG,band:'3.6',unit:'Ms',cls:'II',
  tyr:[1.6105,1.646],tyt:['1.615','1.620','1.625','1.630','1.635','1.640','1.645'],byr:[-0.49,5.94],byt:['0','1','2','3','4','5'],rmap:[0,0,0.015,5.3],rt:['0.000','0.005','0.010','0.015'],
  fill:[2.67,3.0],dot:0.5,mag:[2.735,3.111,5.55],ann:['0.284/0.009','18.070/1.310'],tx:2.3,ps:3.5},
 {id:'502',box:[458,757,367,518,665],xr:[2.027,3.115],xt:xt_21to31,top:p502_top,fit:p502_fit,line:p502_line,hist:p502_hist,pts:p502_pts,col:ORG,band:'3.6',unit:'Ms',cls:'II',
  tyr:[2.521,2.789],tyt:['2.55','2.60','2.65','2.70','2.75'],byr:[-0.19,2.14],byt:['0.0','0.5','1.0','1.5','2.0'],rmap:[0,0,0.1,2.08],rt:['0.00','0.02','0.04','0.06','0.08','0.10'],
  fill:[2.56,2.66],dot:null,mag:null,ann:['0.760/NaN ???','39.820/8.050'],tx:2.296,ps:3},
 {id:'528',box:[862,1162,369,520,665],xr:[2.015,3.122],xt:xt_21to31,top:p528_top,fit:p528_fit,line:p528_line,hist:p528_hist,pts:p528_pts,col:ORG,band:'3.6',unit:'Ms',cls:'II',
  tyr:[9.861,10.077],tyt:['9.90','9.95','10.00','10.05'],byr:[-2.6,35.2],byt:['0','10','20','30'],rmap:[0,0.3,0.06,27.4],rt:['0.00','0.02','0.04','0.06'],
  fill:[2.96,3.05],dot:3.5,mag:[2.96,3.122,32.5],ann:['0.993/0.108','22.670/5.810'],tx:2.295,ps:3.5},
 {id:'546',box:[60,355,725,873,1020],xr:[2.618,2.752],xt:['2.65','2.70'],top:p546_top,fit:p546_fit,line:p546_line,hist:p546_hist,pts:p546_pts,col:RED,band:'4.5',unit:'Ks',cls:'III',
  tyr:[12.817,13.097],tyt:['12.85','12.90','12.95','13.00','13.05'],byr:[-0.085,0.954],byt:['0.0','0.2','0.4','0.6','0.8'],rmap:[0,0,0.15,0.806],rt:['0.00','0.05','0.10','0.15'],
  fill:[2.634,2.752],dot:0.005,mag:[2.634,2.752,0.88],ann:['5.399/1.693','42.920/21.710'],tx:2.652,ps:3.5},
 {id:'588',box:[462,753,729,874,1021],xr:[4.388,5.095],xt:['4.4','4.5','4.6','4.7','4.8','4.9','5.0'],top:p588_top,fit:p588_fit,line:p588_line,hist:p588_hist,pts:p588_pts,col:RED,band:'4.5',unit:'Ms',cls:'II',
  tyr:[1.4475,1.4799],tyt:['1.450','1.455','1.460','1.465','1.470','1.475'],byr:[-0.35,12.0],byt:['0','2','4','6','8','10'],rmap:[0,0.75,0.012,10.75],rt:['0.000','0.002','0.004','0.006','0.008','0.010','0.012'],
  fill:[4.645,4.757],dot:0.7,mag:[4.725,4.76,11.1],ann:['0.079/0.018','9.530/1.630'],tx:4.55,ps:3.5},
 {id:'662',box:[860,1160,721,870,1019],xr:[2.02,3.107],xt:xt_21to31,top:p662_top,fit:p662_fit,line:p662_line,hist:p662_hist,pts:p662_pts,col:ORG,band:'3.6',unit:'Ms',cls:'II',
  tyr:[0.8434,0.9867],tyt:['0.86','0.88','0.90','0.92','0.94','0.96','0.98'],byr:[-0.96,10.96],byt:['0','2','4','6','8','10'],rmap:[0,0,0.06,9.9],rt:['0.00','0.02','0.04','0.06'],
  fill:[2.77,2.97],dot:0,mag:[2.8,3.107,10.1],ann:['0.930/0.035','45.850/5.140'],tx:2.292,ps:3},
 {id:'704',box:[258,557,1073,1225,1378],xr:[2.7,3.104],xt:['2.7','2.8','2.9','3.0','3.1'],top:p704_top,fit:p704_fit,line:p704_line,hist:p704_hist,pts:p704_pts,col:RED,band:'4.5',unit:'Ms',cls:'I',
  tyr:[19.24,20.456],tyt:['19.4','19.6','19.8','20.0','20.2','20.4'],byr:[-1.1,11.97],byt:['0','2','4','6','8','10'],rmap:[0,0,0.8,10],rt:['0.0','0.2','0.4','0.6','0.8'],
  fill:[2.79,2.96],dot:2.4,mag:[2.765,2.962,11],ann:['0.415/0.024','443.520/119.630'],tx:2.802,ps:3.2},
 {id:'706',box:[660,960,1076,1225,1378],xr:[0.006,0.885],xt:xt_0to08,top:p706_top,fit:p706_fit,line:p706_line,hist:p706_hist,pts:p706_pts,col:ORG,band:'3.6',unit:'Ms',cls:'II',
  tyr:[3.6875,3.732],tyt:['3.69','3.70','3.71','3.72','3.73'],byr:[-1.5,18.1],byt:['0','5','10','15'],rmap:[0,0,0.04,15.1],rt:['0.00','0.01','0.02','0.03','0.04'],
  fill:[0.46,0.6],dot:3.7,mag:[0.47,0.56,17],ann:['0.637/0.080','17.210/3.330'],tx:0.226,ps:3.5}
];

// ===== RENDER =====
const NS='http://www.w3.org/2000/svg';
const svg=document.getElementById('fig');
function mk(tag,parent,o){const e=document.createElementNS(NS,tag);for(const k in o)e.setAttribute(k,o[k]);parent.appendChild(e);return e;}
let clipN=0;
function clip(parent,x,y,w,h){const id='c'+(clipN++);const cp=mk('clipPath',parent,{id:id});mk('rect',cp,{x:x,y:y,width:w,height:h});return 'url(#'+id+')';}
function smoothPath(P){
  if(P.length<3){return 'M'+P.map(p=>p[0]+','+p[1]).join(' L');}
  let d='M'+P[0][0]+','+P[0][1];
  for(let i=0;i<P.length-1;i++){
    const p0=P[i-1]||P[i],p1=P[i],p2=P[i+1],p3=P[i+2]||P[i+1];
    const c1=[p1[0]+(p2[0]-p0[0])/6,p1[1]+(p2[1]-p0[1])/6];
    const c2=[p2[0]-(p3[0]-p1[0])/6,p2[1]-(p3[1]-p1[1])/6];
    d+=' C'+c1[0]+','+c1[1]+' '+c2[0]+','+c2[1]+' '+p2[0]+','+p2[1];
  }
  return d;
}
function minorTicks(g,vals,sc,fixed,dir,len,horiz){
  for(let i=0;i<vals.length-1;i++){const a=vals[i],b=vals[i+1];for(let k=1;k<5;k++){const v=a+(b-a)*k/5;const p=sc(v);
    if(horiz) mk('line',g,{x1:p,x2:p,y1:fixed,y2:fixed+dir*len,stroke:'#333','stroke-width':0.8});
    else mk('line',g,{y1:p,y2:p,x1:fixed,x2:fixed+dir*len,stroke:'#333','stroke-width':0.8});}}
}
function extendVals(v,lo,hi){const s=v[1]-v[0];const out=v.slice();while(out[0]-s>lo-s)out.unshift(out[0]-s);while(out[out.length-1]+s<hi+s)out.push(out[out.length-1]+s);return out;}

function drawPanel(c){
  const [x0,x1,t0,t1,b1]=c.box;
  const g=mk('g',svg,{});
  
  
  const sx=v=>x0+(v-c.xr[0])/(c.xr[1]-c.xr[0])*(x1-x0);
  const syT=v=>t1-(v-c.tyr[0])/(c.tyr[1]-c.tyr[0])*(t1-t0);
  const syB=v=>b1-(v-c.byr[0])/(c.byr[1]-c.byr[0])*(b1-t1);
  const xv=c.xt.map(parseFloat), xvE=extendVals(xv,c.xr[0],c.xr[1]);
  const gt=mk('g',g,{'clip-path':clip(g,x0,t0,x1-x0,t1-t0)});
  
  
  const fit=mk('path',gt,{d:smoothPath(c.fit.map(p=>[sx(p[0]),syT(p[1])])),fill:'none',stroke:'#c8c8c8','stroke-width':c.id==='488'?8:6,'stroke-linecap':'round','stroke-linejoin':'round'});
  
  
  if(c.dense){const pl=mk('polyline',gt,{points:c.top.map(p=>sx(p[0])+','+syT(p[1])).join(' '),fill:'none',stroke:c.col,'stroke-width':1.4,'stroke-dasharray':'1.5,1.2'});
    
    }
  c.top.forEach(p=>{const r=mk('rect',gt,{x:sx(p[0])-c.ps/2,y:syT(p[1])-c.ps/2,width:c.ps,height:c.ps,fill:c.col});
    
    });
  const ft=mk('rect',g,{x:x0,y:t0,width:x1-x0,height:t1-t0,fill:'none',stroke:'#444','stroke-width':1});
  
  
  const tv=c.tyt.map(parseFloat), tvE=extendVals(tv,c.tyr[0],c.tyr[1]);
  const gx=mk('g',g,{'clip-path':clip(g,x0-1,t0-1,x1-x0+2,b1-t0+2)});
  tv.forEach((v,i)=>{const y=syT(v);
    mk('line',gx,{x1:x0,x2:x0+7,y1:y,y2:y,stroke:'#333','stroke-width':1});
    mk('line',gx,{x1:x1,x2:x1-7,y1:y,y2:y,stroke:'#333','stroke-width':1});
    const t=mk('text',g,{x:x0-4,y:y+5,'text-anchor':'end','font-size':15,fill:'#111'});t.textContent=c.tyt[i];
    
    });
  minorTicks(gx,tvE,syT,x0,1,4,false);minorTicks(gx,tvE,syT,x1,-1,4,false);
  xvE.forEach(v=>{const x=sx(v);
    mk('line',gx,{x1:x,x2:x,y1:t0,y2:t0+7,stroke:'#333','stroke-width':1});
    mk('line',gx,{x1:x,x2:x,y1:t1,y2:t1-7,stroke:'#333','stroke-width':1});
    mk('line',gx,{x1:x,x2:x,y1:t1,y2:t1+7,stroke:'#333','stroke-width':1});
    mk('line',gx,{x1:x,x2:x,y1:b1,y2:b1-7,stroke:'#333','stroke-width':1});});
  minorTicks(gx,xvE,sx,t0,1,4,true);minorTicks(gx,xvE,sx,t1,-1,4,true);minorTicks(gx,xvE,sx,t1,1,4,true);minorTicks(gx,xvE,sx,b1,-1,4,true);
  const id=mk('text',g,{x:x0+6,y:t0+15,'font-size':14,fill:'#111'});id.textContent='# '+c.id;
  
  
  const cl=mk('text',g,{x:x1-4,y:t0+15,'text-anchor':'end','font-size':14,fill:'#111'});cl.textContent=c.cls;
  
  
  const ty=mk('text',g,{x:0,y:0,'text-anchor':'middle','font-size':15,fill:'#111',transform:'translate('+(x0-43)+','+((t0+t1)/2)+') rotate(-90)'});
  ty.textContent=c.band+'µm [mJy]';
  
  
  const gb=mk('g',g,{'clip-path':clip(g,x0,t1,x1-x0,b1-t1)});
  
  
  const base=c.base||0;
  const inF=c.line.filter(p=>p[0]>=c.fill[0]&&p[0]<=c.fill[1]);
  if(inF.length){const pts=[[inF[0][0],base]].concat(inF).concat([[inF[inF.length-1][0],base]]);
    const fp=mk('polygon',gb,{points:pts.map(p=>sx(p[0])+','+syB(p[1])).join(' '),fill:'#dcdcdc',stroke:'none'});
    
    }
  const zl=mk('line',gb,{x1:x0,x2:x1,y1:syB(0),y2:syB(0),stroke:'#c8c8c8','stroke-width':2});
  
  
  if(c.dot!=null){const dl=mk('line',gb,{x1:x0,x2:x1,y1:syB(c.dot),y2:syB(c.dot),stroke:'#999','stroke-width':1,'stroke-dasharray':'2,2'});
    
    }
  if(c.spike){const s=c.spike;const sp=mk('polyline',gb,{points:[[s[0],base],[s[0],s[2]],[s[1],s[2]],[s[1],base]].map(p=>sx(p[0])+','+syB(p[1])).join(' '),fill:'#eee',stroke:'#999','stroke-width':1.5});
    
    }
  c.hist.forEach((h,i)=>{
    if(i>0){const prev=c.hist[i-1][2];const v=mk('line',gb,{x1:sx(h[0]),x2:sx(h[0]),y1:syB(prev),y2:syB(h[2]),stroke:'#999','stroke-width':1.3});
      
      }
    const hl=mk('line',gb,{x1:sx(h[0]),x2:sx(h[1]),y1:syB(h[2]),y2:syB(h[2]),stroke:'#000','stroke-width':1.6});
    
    });
  const ln=mk('polyline',gb,{points:c.line.map(p=>sx(p[0])+','+syB(p[1])).join(' '),fill:'none',stroke:c.col,'stroke-width':1.5,'stroke-linejoin':'round'});
  
  
  if(c.mag){const m=mk('line',gb,{x1:sx(c.mag[0]),x2:sx(c.mag[1]),y1:syB(c.mag[2]),y2:syB(c.mag[2]),stroke:'#ff33ff','stroke-width':1.8});
    
    }
  c.pts.forEach(p=>{
    const e=mk('line',gb,{x1:sx(p[0]),x2:sx(p[0]),y1:syB(p[1]-p[2]),y2:syB(p[1]+p[2]),stroke:'#000','stroke-width':1.5});
    
    
    const d=mk('circle',gb,{cx:sx(p[0]),cy:syB(p[1]),r:3.5,fill:'#000'});
    
    });
  const fb=mk('rect',g,{x:x0,y:t1,width:x1-x0,height:b1-t1,fill:'none',stroke:'#444','stroke-width':1});
  
  
  const bv=c.byt.map(parseFloat), bvE=extendVals(bv,c.byr[0],c.byr[1]);
  bv.forEach((v,i)=>{const y=syB(v);
    mk('line',gx,{x1:x0,x2:x0+7,y1:y,y2:y,stroke:'#333','stroke-width':1});
    const t=mk('text',g,{x:x0-4,y:y+5,'text-anchor':'end','font-size':15,fill:'#111'});t.textContent=c.byt[i];
    
    });
  minorTicks(gx,bvE,syB,x0,1,4,false);
  const rL=r=>c.rmap[1]+(r-c.rmap[0])/(c.rmap[2]-c.rmap[0])*(c.rmap[3]-c.rmap[1]);
  c.rt.forEach(s=>{const y=syB(rL(parseFloat(s)));
    mk('line',gx,{x1:x1,x2:x1-7,y1:y,y2:y,stroke:'#333','stroke-width':1});
    const t=mk('text',g,{x:x1+4,y:y+4,'font-size':11.5,fill:'#222'});t.textContent=s;
    
    });
  const rtx=Math.min(1193,x1+(c.rt[0].length>4?46:40));
  const rty=mk('text',g,{x:0,y:0,'text-anchor':'middle','font-size':11,fill:'#333',transform:'translate('+rtx+','+((t1+b1)/2-30)+') rotate(-90)'});
  rty.textContent=c.band+'µm [mJy]';
  
  
  xv.forEach((v,i)=>{const t=mk('text',g,{x:sx(v),y:b1+19,'text-anchor':'middle','font-size':15,fill:'#111'});t.textContent=c.xt[i];
    
    });
  const xtl=mk('text',g,{x:(x0+x1)/2,y:b1+34,'text-anchor':'middle','font-size':15,fill:'#111'});xtl.textContent='MJD - 55898.1';
  
  
  const by=mk('text',g,{x:0,y:0,'text-anchor':'middle','font-size':14.5,fill:'#111',transform:'translate('+(x0-34)+','+((t1+b1)/2)+') rotate(-90)'});
  by.innerHTML='[0.5-8.0keV] Cnts/'+c.unit+'/cm<tspan dy="-5" font-size="10">-2</tspan>';
  
  
  const a1=mk('text',g,{x:sx(c.tx),y:t1+9,'font-size':7,fill:'#333'});
  a1.innerHTML='E<tspan dy="2" font-size="5">IR</tspan><tspan dy="-2">/L</tspan><tspan dy="2" font-size="5">pk,32</tspan><tspan dy="-2">='+c.ann[0]+'</tspan>';
  
  
  const a2=mk('text',g,{x:sx(c.tx),y:t1+18,'font-size':7,fill:c.col});
  a2.innerHTML='E<tspan dy="2" font-size="5">X</tspan><tspan dy="-2">/L</tspan><tspan dy="2" font-size="5">pk,32</tspan><tspan dy="-2">='+c.ann[1]+'</tspan>';
  
  
}
panels.forEach(drawPanel);
</script>
</body></html>
